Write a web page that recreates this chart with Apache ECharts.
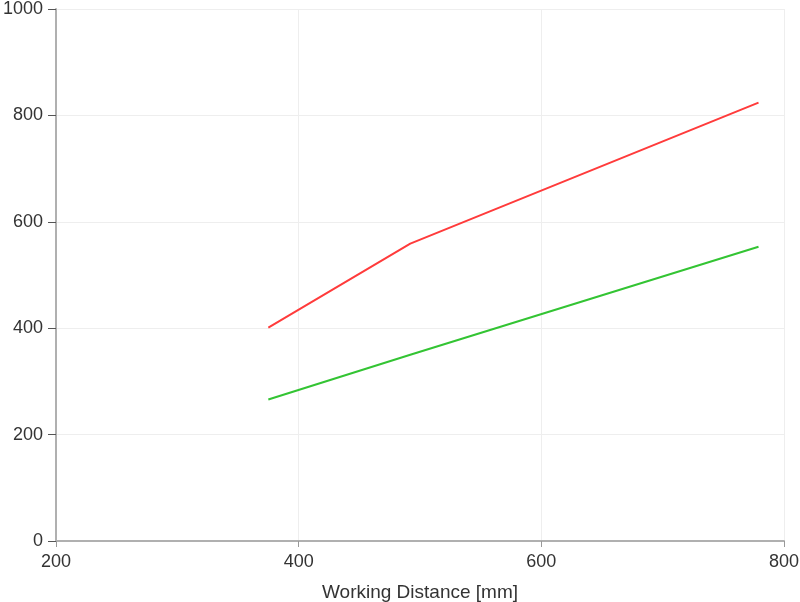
<!DOCTYPE html>
<html><head><meta charset="utf-8">
<script src="https://cdn.jsdelivr.net/npm/echarts@6/dist/echarts.min.js"></script>
<style>html,body{margin:0;padding:0;background:#fff}#c{width:800px;height:602px}</style>
</head><body><div id="c"></div>
<script>
const xTicks = [200, 400, 600, 800];
const yTicks = [0, 200, 400, 600, 800, 1000];
const redX = [375, 492, 779];
const redY = [401, 559, 824];
const greenX = [375, 492, 779];
const greenY = [266, 350, 553];
const xTitle = 'Working Distance [mm]';

const chart = echarts.init(document.getElementById('c'));
const font = '"Liberation Sans", Arial, sans-serif';
chart.setOption({
  animation: false,
  grid: {left: 56, right: 16, top: 9, bottom: 61, containLabel: false, outerBoundsMode: 'none'},
  xAxis: {
    type: 'value', min: xTicks[0], max: xTicks[xTicks.length-1], interval: 200,
    name: xTitle, nameLocation: 'middle', nameGap: 42,
    nameTextStyle: {color: '#333', fontSize: 19, fontFamily: font},
    axisLine: {show: true, lineStyle: {color: '#b0b0b0', width: 2}},
    axisTick: {show: true, length: 6, lineStyle: {color: '#999'}},
    axisLabel: {color: '#333', fontSize: 18, fontFamily: font, margin: 12},
    splitLine: {show: true, lineStyle: {color: '#eee'}}
  },
  yAxis: {
    type: 'value', min: yTicks[0], max: yTicks[yTicks.length-1], interval: 200,
    axisLine: {show: true, lineStyle: {color: '#b0b0b0', width: 2}},
    axisTick: {show: true, length: 8, lineStyle: {color: '#555'}},
    axisLabel: {color: '#333', fontSize: 18, fontFamily: font, margin: 13, formatter: v => String(v)},
    splitLine: {show: true, lineStyle: {color: '#eee'}}
  },
  series: [
    {type: 'line', data: redX.map((x,i)=>[x, redY[i]]), showSymbol: false,
     lineStyle: {color: '#ff3b3b', width: 2}, itemStyle: {color: '#ff3b3b'}},
    {type: 'line', data: greenX.map((x,i)=>[x, greenY[i]]), showSymbol: false,
     lineStyle: {color: '#33c433', width: 2}, itemStyle: {color: '#33c433'}}
  ]
});
</script></body></html>
